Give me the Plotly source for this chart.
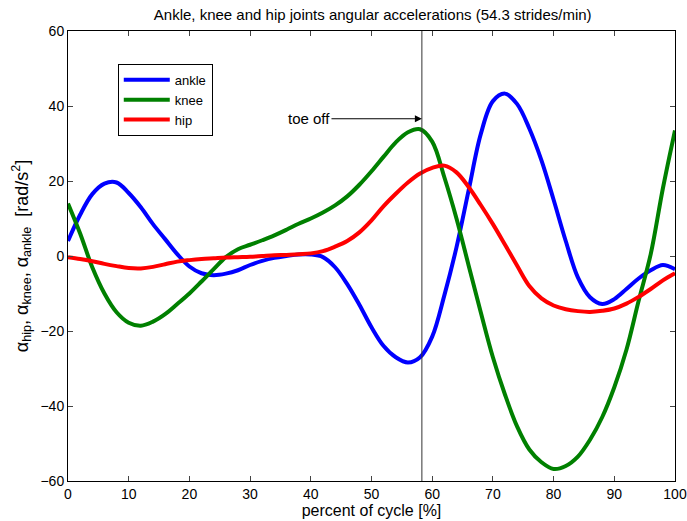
import plotly.graph_objects as go

percent = list(range(0, 101, 2))

ankle = [4.0, 11.0, 16.5, 19.3, 19.6, 16.8, 13.0, 8.5, 4.5, 0.5,
         -2.8, -4.6, -5.1, -4.7, -3.8, -2.4, -1.3, -0.5, 0.0, 0.4,
         0.4, -0.3, -3.0, -7.5, -13.0, -19.0, -24.0, -27.0, -28.4, -27.0,
         -21.5, -10.5, 2.3, 17.5, 32.5, 41.3, 43.3, 40.5, 34.0, 25.5,
         15.0, 4.0, -5.7, -11.0, -12.8, -11.5, -8.8, -6.0, -3.8, -2.4,
         -3.5]

knee = [14.0, 6.0, -3.0, -10.0, -15.0, -17.8, -18.6, -17.5, -15.5, -12.8,
        -10.0, -6.8, -3.5, -0.3, 1.8, 3.0, 4.2, 5.5, 7.0, 8.6,
        10.0, 11.6, 13.5, 15.9, 19.0, 22.6, 26.5, 30.3, 33.0, 33.8,
        30.5, 21.0, 10.0, -2.5, -15.0, -27.0, -37.0, -45.5, -51.6, -55.0,
        -56.8, -56.0, -53.5, -49.0, -43.0, -35.0, -25.0, -12.0, 0.5, 18.0,
        33.5]

hip = [-0.3, -0.8, -1.4, -2.1, -2.7, -3.2, -3.3, -2.9, -2.2, -1.5,
       -1.1, -0.8, -0.6, -0.4, -0.3, -0.2, 0.0, 0.2, 0.3, 0.5,
       0.7, 1.3, 2.5, 4.0, 6.3, 9.5, 13.3, 16.6, 19.6, 22.0,
       23.5, 24.1, 22.3, 18.4, 13.6, 8.5, 3.0, -2.6, -8.0, -11.3,
       -13.2, -14.2, -14.7, -14.9, -14.6, -14.0, -12.7, -10.9, -8.8, -6.5,
       -4.6]

toe_off = 58.3
toe_off_label_y = 36.6
toe_off_label_x = 39.7

x_ticks = [0, 10, 20, 30, 40, 50, 60, 70, 80, 90, 100]
y_ticks = [-60, -40, -20, 0, 20, 40, 60]

FONT = "Liberation Sans, Arial, sans-serif"

fig = go.Figure()
for name, vals, col in [("ankle", ankle, "#0000ff"),
                        ("knee", knee, "#008000"),
                        ("hip", hip, "#ff0000")]:
    fig.add_trace(go.Scatter(x=percent, y=vals, mode="lines", name=name,
                             line=dict(color=col, width=4, shape="spline", smoothing=1.0)))

fig.add_shape(type="line", x0=toe_off, x1=toe_off, y0=-60, y1=60,
              xref="x", yref="y", line=dict(color="#333333", width=1))

fig.add_annotation(x=toe_off, y=toe_off_label_y, ax=toe_off_label_x, ay=toe_off_label_y,
                   xref="x", yref="y", axref="x", ayref="y",
                   text="toe off", showarrow=True, arrowhead=2, arrowsize=1.4,
                   arrowwidth=1, arrowcolor="#000000", standoff=0,
                   font=dict(family=FONT, size=15, color="#000000"))

fig.update_layout(
    width=687, height=521,
    margin=dict(l=68, r=12, t=31, b=40),
    paper_bgcolor="white", plot_bgcolor="white",
    font=dict(family=FONT, size=14, color="#000000"),
    title=dict(text="Ankle, knee and hip joints angular accelerations (54.3 strides/min)",
               x=0.5425, xanchor="center", y=0.972, yanchor="middle",
               font=dict(family=FONT, size=15, color="#000000")),
    showlegend=True,
    legend=dict(x=0.082, y=0.927, xanchor="left", yanchor="top",
                bordercolor="#000000", borderwidth=1, bgcolor="white",
                font=dict(family=FONT, size=13), tracegroupgap=0,
                itemwidth=46),
    xaxis=dict(range=[0, 100], tickvals=x_ticks, ticks="inside", ticklen=5,
               showline=True, mirror="ticks", linecolor="#000000", linewidth=1,
               showgrid=False, zeroline=False, automargin=False,
               ticklabeloverflow="allow",
               tickfont=dict(family=FONT, size=14),
               title=dict(text="percent of cycle [%]", standoff=2,
                          font=dict(family=FONT, size=16))),
    yaxis=dict(range=[-60, 60], tickvals=y_ticks, ticks="inside", ticklen=5,
               showline=True, mirror="ticks", linecolor="#000000", linewidth=1,
               showgrid=False, zeroline=False, automargin=False,
               ticklabeloverflow="allow",
               tickfont=dict(family=FONT, size=14),
               title=dict(text="α<sub>hip</sub>, α<sub>knee</sub>, α<sub>ankle</sub>  [rad/s<sup>2</sup>]",
                          standoff=7, font=dict(family=FONT, size=18))),
)

fig.write_html("out.html")
